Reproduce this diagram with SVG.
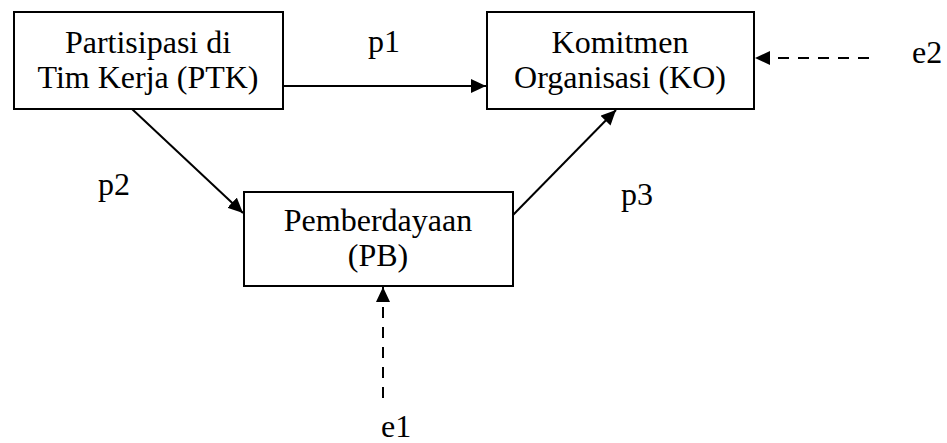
<svg xmlns="http://www.w3.org/2000/svg" width="947" height="443" viewBox="0 0 947 443">
<style>
.box{fill:#fff;stroke:#000;stroke-width:2}
.ln{stroke:#000;stroke-width:2;fill:none}
.dash{stroke-dasharray:11 9}
</style>
<defs>
<marker id="ah" markerUnits="userSpaceOnUse" markerWidth="16" markerHeight="16" refX="15" refY="7" orient="auto">
<path d="M0,0 L15,7 L0,14 z" fill="#000"/>
</marker>
</defs>
<g id="connectors">
<path class="ln" d="M283,86 L486,86" marker-end="url(#ah)"/>
<path class="ln" d="M132,109 L243,213" marker-end="url(#ah)"/>
<path class="ln" d="M513,215 L616,110" marker-end="url(#ah)"/>
<path class="ln dash" d="M869,58 L755,58" marker-end="url(#ah)"/>
<path class="ln dash" d="M383,398 L383,287" marker-end="url(#ah)"/>
</g>
<g font-family="'Liberation Serif', 'Times New Roman', 'DejaVu Serif', serif" font-size="32" fill="#000">
<g id="PTK">
<rect class="box" x="14" y="12" width="269" height="97"/>
<text text-anchor="middle" x="148" y="53">Partisipasi di</text>
<text text-anchor="middle" x="148" y="88">Tim Kerja (PTK)</text>
</g>
<g id="KO">
<rect class="box" x="487" y="12" width="267" height="97"/>
<text text-anchor="middle" x="620" y="53">Komitmen</text>
<text text-anchor="middle" x="620" y="88">Organisasi (KO)</text>
</g>
<g id="PB">
<rect class="box" x="244" y="192" width="269" height="94"/>
<text text-anchor="middle" x="378" y="231">Pemberdayaan</text>
<text text-anchor="middle" x="378" y="266">(PB)</text>
</g>
<g id="labels">
<text x="368" y="52">p1</text>
<text x="98" y="195">p2</text>
<text x="621" y="205">p3</text>
<text x="912" y="63">e2</text>
<text x="381" y="437">e1</text>
</g>
</g>
</svg>
